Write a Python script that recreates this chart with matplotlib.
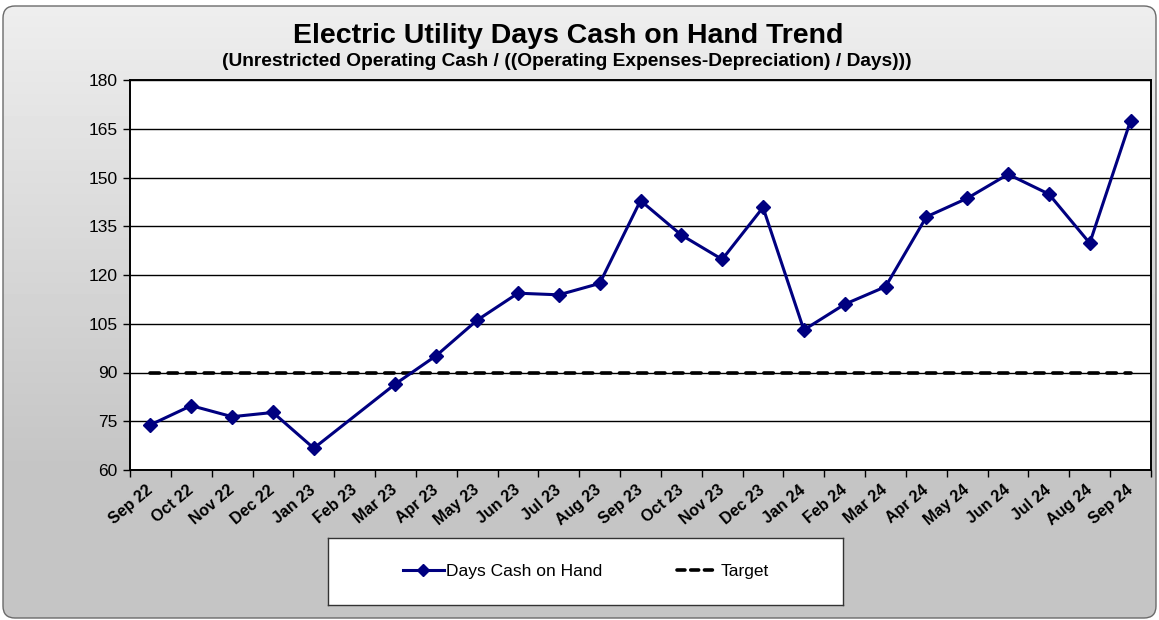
import numpy as np
import matplotlib.pyplot as plt
from matplotlib.patches import FancyBboxPatch, Rectangle
from matplotlib.lines import Line2D

# months on the category axis
months = ['Sep 22', 'Oct 22', 'Nov 22', 'Dec 22', 'Jan 23', 'Feb 23', 'Mar 23',
          'Apr 23', 'May 23', 'Jun 23', 'Jul 23', 'Aug 23', 'Sep 23', 'Oct 23',
          'Nov 23', 'Dec 23', 'Jan 24', 'Feb 24', 'Mar 24', 'Apr 24', 'May 24',
          'Jun 24', 'Jul 24', 'Aug 24', 'Sep 24']
# Feb 23 has no reported value
days_cash = [73.9, 79.8, 76.4, 77.7, 66.7, np.nan, 86.5,
             95.2, 106.1, 114.4, 113.9, 117.4, 142.9, 132.3,
             124.8, 140.8, 103.1, 111.0, 116.4, 137.9, 143.6,
             151.0, 144.9, 129.8, 167.5]
target = [90] * len(months)
y_ticks = [60, 75, 90, 105, 120, 135, 150, 165, 180]

plt.rcParams['font.family'] = ['Liberation Sans', 'DejaVu Sans']

W, H = 1159, 620
fig = plt.figure(figsize=(W / 100, H / 100), dpi=100)
fig.patch.set_facecolor('white')

# background with rounded border and grey gradient
bg = fig.add_axes([0, 0, 1, 1], zorder=-10)
bg.set_xlim(0, W)
bg.set_ylim(0, H)
bg.set_axis_off()
rows = np.arange(H)
t = np.clip(rows / 470, 0, 1)
shade = 0.935 - t * (0.935 - 0.77)
grad = np.repeat(shade[:, None], 2, axis=1)
im = bg.imshow(grad, extent=[0, W, 0, H], origin='upper', aspect='auto',
               cmap='gray', vmin=0, vmax=1)
frame = FancyBboxPatch((3, 2), W - 6, H - 8, boxstyle='round,pad=0,rounding_size=12',
                       facecolor='none', edgecolor='#6a6a6a', linewidth=1.0)
bg.add_patch(frame)
im.set_clip_path(frame)

# main plot area
ax = fig.add_axes([130 / W, 150 / H, 1021 / W, 390 / H])
ax.set_facecolor('white')
x = np.arange(len(months))
vals = np.array(days_cash, dtype=float)
ok = ~np.isnan(vals)

ax.plot(x, target, color='black', lw=2.6, ls=(0, (2.6, 2.4)),
        dash_capstyle='round', zorder=3)
ax.plot(x[ok], vals[ok], color='#000080', lw=2.2, marker='D', markersize=7,
        markerfacecolor='#000080', markeredgecolor='#000080', zorder=4)

ax.set_xlim(-0.5, len(months) - 0.5)
ax.set_ylim(60, 180)
ax.set_yticks(y_ticks)
ax.tick_params(axis='y', direction='out', length=5, width=1, labelsize=12.5, pad=4)
ax.yaxis.grid(True, color='black', linewidth=1.0)
ax.set_axisbelow(True)

ax.set_xticks(np.arange(-0.5, len(months), 1))
ax.set_xticklabels([])
ax.tick_params(axis='x', which='major', direction='out', length=5, width=1)
ax.set_xticks(x, minor=True)
ax.set_xticklabels(months, minor=True, rotation=40, ha='right', va='center',
                   rotation_mode='anchor', fontweight='bold', fontsize=11.5)
ax.tick_params(axis='x', which='minor', length=0, pad=13)
for s in ax.spines.values():
    s.set_linewidth(1.4)
    s.set_color('black')

# titles
fig.text(568 / W, 1 - 36 / H, 'Electric Utility Days Cash on Hand Trend',
         ha='center', va='center', fontsize=20.5, fontweight='bold')
fig.text(567 / W, 1 - 62 / H,
         '(Unrestricted Operating Cash / ((Operating Expenses-Depreciation) / Days)))',
         ha='center', va='center', fontsize=13.8, fontweight='bold')

# legend box
lax = fig.add_axes([328 / W, 1 - 605 / H, 515 / W, 67 / H])
lax.set_xticks([])
lax.set_yticks([])
lax.set_facecolor('white')
for s in lax.spines.values():
    s.set_linewidth(1.0)
    s.set_color('#333333')
handles = [Line2D([], [], color='#000080', lw=2.2, marker='D', markersize=6),
           Line2D([], [], color='black', lw=2.6, ls=(0, (2.2, 1.6)), dash_capstyle='round')]
lax.legend(handles, ['Days Cash on Hand', 'Target'], loc='center', ncol=2,
           frameon=False, fontsize=12.5, handlelength=2.4, handletextpad=0.1,
           columnspacing=4.3)

fig.savefig('out.png', dpi=100)
